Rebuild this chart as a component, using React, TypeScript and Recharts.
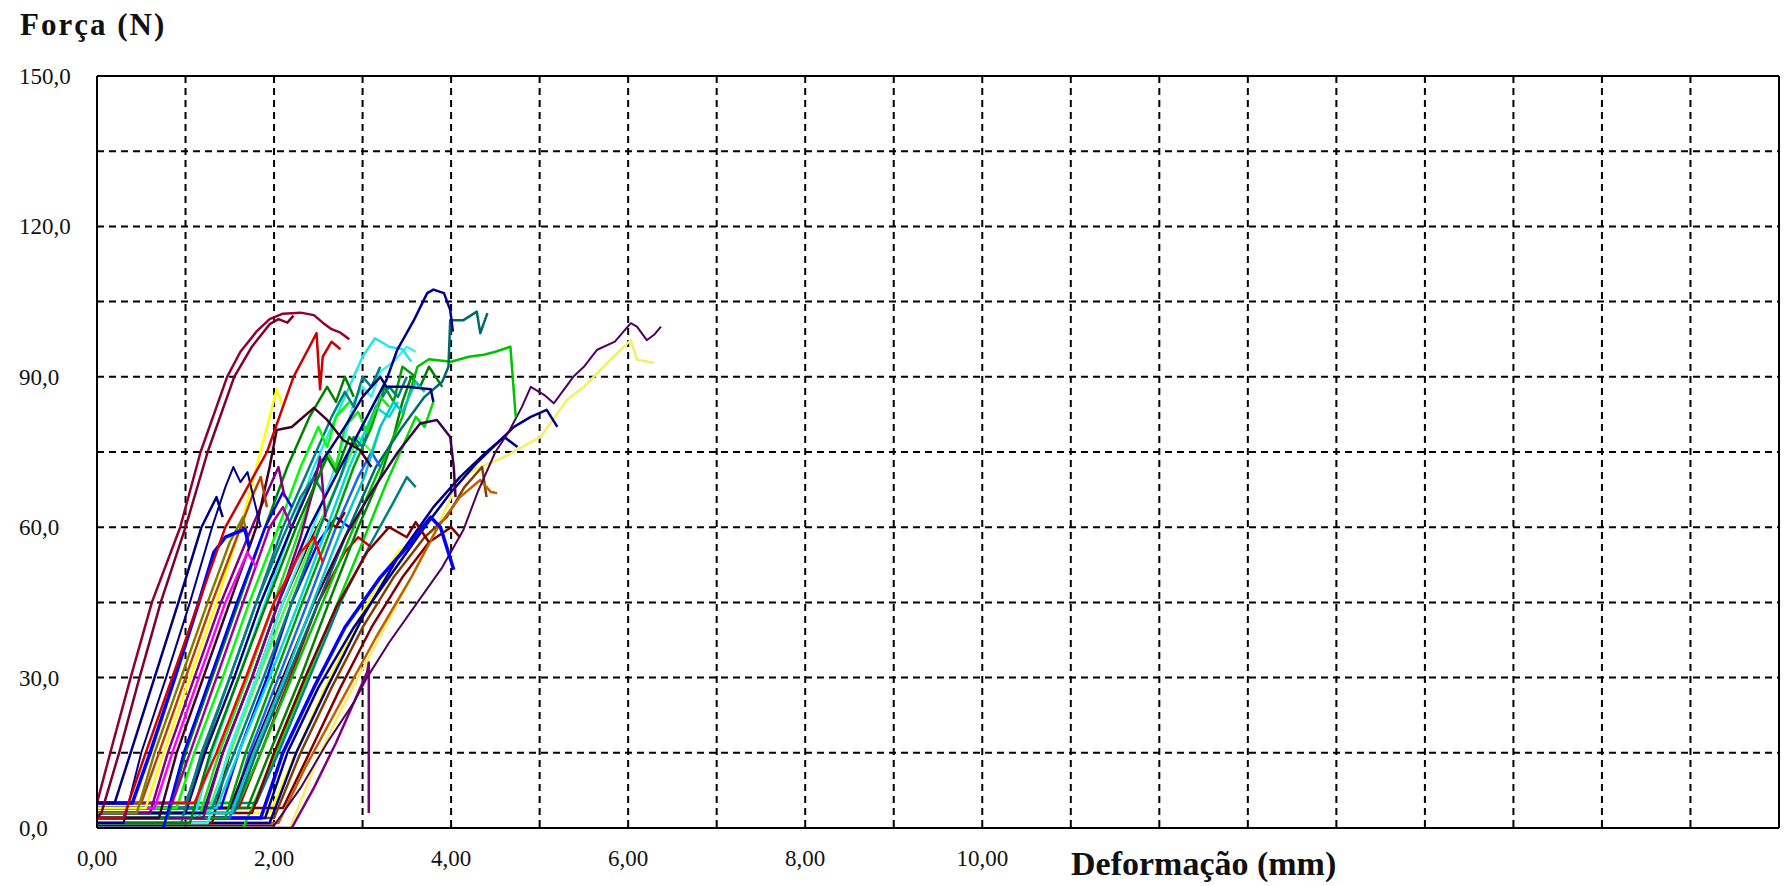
import React from "react";
import { LineChart, Line, XAxis, YAxis, CartesianGrid, ReferenceLine } from "recharts";

type Pt = [number, number];

// deformação (mm) x força (N), one array per specimen
const c01: Pt[] = [[0, 5], [0.15, 15], [0.38, 30], [0.62, 45], [0.94, 60], [1.17, 75], [1.47, 90], [1.62, 95], [1.8, 99], [1.95, 101.5], [2.1, 102.6], [2.3, 102.8], [2.45, 102.3], [2.55, 100.8], [2.65, 99.5], [2.75, 98.8], [2.85, 97.5]];
const c02: Pt[] = [[0, 2], [0.05, 3], [0.25, 15], [0.48, 30], [0.72, 45], [1.0, 60], [1.25, 75], [1.55, 90], [1.75, 96], [1.95, 100.5], [2.05, 101.5], [2.15, 100.8], [2.22, 102.2]];
const c03: Pt[] = [[0, 2], [0.3, 2], [0.55, 15], [0.85, 30], [1.15, 45], [1.45, 60], [1.92, 75], [2.22, 90], [2.4, 96], [2.48, 98.7], [2.52, 87.5], [2.55, 94], [2.65, 97], [2.75, 95.5]];
const c04: Pt[] = [[0, 4], [0.55, 4], [0.75, 15], [1.05, 30], [1.35, 45], [1.62, 60], [1.8, 72], [1.95, 82], [2.03, 87.5], [2.1, 84]];
const c05: Pt[] = [[0, 1], [0.3, 1], [0.5, 15], [0.78, 30], [1.05, 45], [1.3, 60], [1.45, 68], [1.54, 72], [1.62, 69], [1.7, 71], [1.78, 65], [1.85, 60]];
const c06: Pt[] = [[0, 5], [0.4, 5], [0.6, 15], [0.88, 30], [1.15, 45], [1.32, 55], [1.45, 58], [1.67, 59.6], [1.72, 56]];
const c07: Pt[] = [[0, 3], [0.6, 3], [0.8, 15], [1.1, 30], [1.4, 45], [1.75, 60], [1.95, 68], [2.05, 72], [2.12, 66]];
const c08: Pt[] = [[0, 2], [0.8, 2], [1.0, 15], [1.3, 30], [1.6, 45], [1.9, 60], [2.15, 72], [2.4, 82], [2.6, 88], [2.7, 85], [2.8, 90], [2.9, 86]];
const c09: Pt[] = [[0, 4], [0.9, 4], [1.1, 15], [1.42, 30], [1.72, 45], [2.05, 60], [2.3, 72], [2.5, 80], [2.6, 76], [2.7, 82], [2.85, 85]];
const c10: Pt[] = [[0, 5], [1.0, 5], [1.2, 15], [1.5, 30], [1.8, 45], [2.1, 60], [2.4, 72], [2.65, 82], [2.8, 87], [2.9, 84], [3.0, 90], [3.1, 88], [3.2, 92]];
const c11: Pt[] = [[0, 2], [1.1, 2], [1.3, 15], [1.6, 30], [1.9, 45], [2.2, 60], [2.45, 72], [2.7, 82], [2.9, 90], [3.0, 94], [3.14, 97.7], [3.3, 96], [3.45, 95.5], [3.55, 93]];
const c12: Pt[] = [[0, 3], [1.2, 3], [1.42, 15], [1.75, 30], [2.05, 45], [2.4, 60], [2.75, 72], [3.05, 82], [3.27, 89.4], [3.39, 95.3], [3.58, 101.3], [3.73, 106.7], [3.8, 107.4], [3.92, 106.7], [3.99, 103.3], [4.02, 99]];
const c13: Pt[] = [[0, 1], [1.3, 1], [1.5, 15], [1.8, 30], [2.1, 45], [2.4, 57], [2.55, 62], [2.7, 60], [2.8, 63]];
const c14: Pt[] = [[0, 4], [1.4, 4], [1.6, 15], [1.92, 30], [2.2, 45], [2.5, 57], [2.7, 62], [2.85, 60]];
const c15: Pt[] = [[0, 3], [1.55, 3], [1.8, 15], [2.15, 30], [2.5, 45], [2.85, 60], [3.15, 72], [3.45, 80], [3.7, 86], [3.9, 89], [3.97, 92], [3.99, 101.3], [4.14, 101.3], [4.29, 103], [4.33, 98.7], [4.41, 102.7]];
const c16: Pt[] = [[0, 5], [1.6, 5], [1.85, 15], [2.2, 30], [2.55, 45], [2.9, 60], [3.2, 72], [3.45, 82], [3.62, 92], [3.75, 93.5], [4.0, 93], [4.2, 94], [4.37, 94.4], [4.5, 95], [4.67, 96], [4.73, 82]];
const c17: Pt[] = [[0, 0.5], [2.0, 0.5], [2.3, 8], [2.6, 17], [2.9, 25], [3.05, 30], [3.3, 37], [3.62, 45], [3.9, 52], [4.14, 59.5], [4.3, 67], [4.5, 75], [4.65, 79], [4.8, 84], [4.9, 88], [5.05, 86.4], [5.16, 84.7], [5.38, 90], [5.5, 92], [5.65, 95.4], [5.85, 97], [6.03, 100.7], [6.1, 100], [6.21, 97.3], [6.3, 98.5], [6.37, 100]];
const c18: Pt[] = [[0, 0], [2.18, 0], [2.52, 15], [2.8, 25], [3.1, 35], [3.4, 45], [3.7, 55], [3.95, 64], [4.1, 70], [4.33, 72], [4.6, 74], [5.01, 78], [5.31, 85.4], [5.5, 88], [5.76, 92.7], [6.03, 97.3], [6.1, 93.4], [6.29, 92.8]];
const c19: Pt[] = [[0, 2], [1.9, 2], [2.15, 15], [2.5, 28], [2.9, 40], [3.3, 50], [3.7, 60], [4.0, 67], [4.3, 73], [4.71, 80], [4.9, 82], [5.08, 83.4], [5.2, 80]];
const c20: Pt[] = [[0, 4], [1.5, 4], [1.75, 15], [2.1, 30], [2.45, 45], [2.8, 58], [3.1, 67], [3.4, 75], [3.65, 80.7], [3.84, 81.4], [3.99, 78], [4.03, 72], [4.05, 66]];
const c21: Pt[] = [[0, 3], [1.0, 3], [1.22, 15], [1.55, 30], [1.85, 45], [2.2, 60], [2.5, 72], [2.8, 80], [3.0, 86], [3.2, 90], [3.27, 88], [3.5, 88], [3.77, 87.5], [3.8, 85]];
const c22: Pt[] = [[0, 2], [0.7, 2], [0.9, 15], [1.2, 30], [1.5, 45], [1.8, 60], [1.95, 72], [2.03, 79.4], [2.2, 80], [2.45, 83.8], [2.6, 81.4], [2.78, 77.4], [2.97, 75.4], [3.1, 72]];
const c23: Pt[] = [[0, 1], [1.25, 1], [1.48, 15], [1.8, 30], [2.1, 45], [2.4, 58], [2.65, 70], [2.8, 78], [2.9, 85], [3.0, 88], [3.1, 86], [3.2, 91], [3.35, 93], [3.5, 96], [3.6, 95]];
const c24: Pt[] = [[0, 4], [1.7, 4], [1.95, 15], [2.3, 30], [2.62, 45], [2.95, 60], [3.2, 70], [3.35, 78], [3.45, 85], [3.55, 90], [3.65, 88], [3.75, 92], [3.9, 88]];
const c25: Pt[] = [[0, 0], [1.65, 0], [1.95, 12], [2.3, 27], [2.65, 42], [3.0, 57], [3.25, 68], [3.45, 76], [3.6, 82], [3.7, 80], [3.8, 85]];
const c26: Pt[] = [[0, 5], [1.8, 5], [2.05, 15], [2.4, 30], [2.75, 45], [3.1, 57], [3.35, 65], [3.5, 70], [3.6, 68]];
const c27: Pt[] = [[0, 2], [1.85, 2], [2.1, 15], [2.45, 28], [2.8, 40], [3.2, 50], [3.5, 56], [3.77, 62], [3.88, 60], [4.03, 51.5]];
const c28: Pt[] = [[0, 3], [1.75, 3], [2.0, 15], [2.35, 30], [2.7, 44], [3.05, 55], [3.3, 60], [3.5, 58], [3.6, 61], [3.75, 57]];
const c29: Pt[] = [[0, 5], [1.1, 5], [1.35, 15], [1.68, 30], [2.0, 45], [2.3, 55], [2.45, 58], [2.55, 53]];
const c30: Pt[] = [[0, 1], [2.05, 1], [2.35, 12], [2.75, 25], [3.15, 38], [3.55, 50], [3.85, 60], [4.1, 66], [4.33, 69.4], [4.45, 67], [4.52, 66.8]];
const c31: Pt[] = [[0, 4], [0.65, 4], [0.85, 15], [1.15, 30], [1.45, 45], [1.7, 55], [1.8, 52]];
const c32: Pt[] = [[0, 3], [0.45, 3], [0.65, 15], [0.95, 30], [1.25, 45], [1.5, 57], [1.65, 62], [1.7, 58]];
const c33: Pt[] = [[0, 2], [1.5, 2], [1.72, 15], [2.05, 30], [2.38, 45], [2.7, 60], [2.95, 70], [3.1, 75], [3.2, 72]];
const c34: Pt[] = [[0, 4], [1.35, 4], [1.6, 15], [1.95, 30], [2.28, 45], [2.6, 60], [2.85, 72], [3.05, 80], [3.15, 84], [3.3, 82], [3.4, 85]];
const c35: Pt[] = [[0, 0], [2.2, 0], [2.45, 8], [2.7, 17], [2.9, 25], [3.05, 31], [3.07, 33], [3.07, 3]];
const c36: Pt[] = [[0, 3], [1.25, 3], [1.5, 15], [1.82, 30], [2.15, 45], [2.5, 60], [2.75, 70], [2.95, 78], [3.1, 75], [3.2, 80]];
const c37: Pt[] = [[0, 5], [0.2, 5], [0.38, 15], [0.65, 30], [0.92, 45], [1.18, 60], [1.35, 66], [1.42, 62]];
const c38: Pt[] = [[0, 2], [1.45, 2], [1.68, 15], [2.0, 30], [2.32, 45], [2.65, 60], [2.9, 72], [3.1, 80], [3.25, 88], [3.35, 85], [3.45, 92], [3.6, 90]];
const c39: Pt[] = [[0, 4], [1.6, 4], [1.85, 15], [2.18, 30], [2.5, 45], [2.8, 55], [2.95, 58], [3.1, 56]];
const c40: Pt[] = [[0, 3], [1.95, 3], [2.25, 15], [2.55, 27], [2.85, 38], [3.15, 48], [3.4, 55], [3.6, 58]];
const c41: Pt[] = [[0, 1], [0.95, 1], [1.18, 15], [1.5, 30], [1.8, 45], [2.1, 58], [2.3, 66], [2.45, 70], [2.55, 67]];
const c42: Pt[] = [[0, 2], [2.0, 2], [2.3, 15], [2.65, 28], [3.0, 40], [3.35, 50], [3.7, 58], [3.95, 62], [4.15, 68], [4.35, 72], [4.4, 66]];
const c43: Pt[] = [[0, 5], [0.85, 5], [1.05, 15], [1.35, 30], [1.65, 45], [1.95, 60], [2.1, 64], [2.2, 60]];
const c44: Pt[] = [[0, 0], [0.75, 0], [0.98, 15], [1.28, 30], [1.58, 45], [1.9, 60], [2.1, 67], [2.2, 64]];
const c45: Pt[] = [[0, 4], [2.1, 4], [2.4, 15], [2.75, 28], [3.1, 40], [3.45, 50], [3.75, 57], [4.0, 60], [4.1, 58]];
const c46: Pt[] = [[0, 1], [1.95, 1], [2.25, 15], [2.6, 28], [3.0, 42], [3.4, 54], [3.8, 64], [4.1, 70], [4.4, 75], [4.6, 78], [4.75, 76]];
const c47: Pt[] = [[0, 2], [1.15, 2], [1.38, 15], [1.7, 30], [2.0, 45], [2.3, 60], [2.5, 70], [2.6, 75], [2.7, 72], [2.8, 80], [2.95, 83], [3.05, 79], [3.2, 86], [3.3, 84]];
const c48: Pt[] = [[0, 4], [1.3, 4], [1.55, 15], [1.88, 30], [2.2, 45], [2.52, 60], [2.75, 70], [2.9, 78], [3.0, 76], [3.15, 84], [3.3, 88], [3.4, 86], [3.5, 90]];
const c49: Pt[] = [[0, 3], [1.52, 3], [1.77, 15], [2.12, 30], [2.44, 45], [2.77, 60], [3.02, 70], [3.2, 80], [3.35, 85], [3.45, 83], [3.6, 89], [3.7, 87]];
const c50: Pt[] = [[0, 1], [1.05, 1], [1.28, 15], [1.6, 30], [1.92, 45], [2.25, 60], [2.45, 68], [2.6, 74], [2.7, 71], [2.85, 78], [2.95, 76]];
const c51: Pt[] = [[0, 2], [1.2, 2], [1.42, 15], [1.75, 30], [2.05, 45], [2.3, 58], [2.45, 68], [2.52, 74], [2.58, 62]];
const c52: Pt[] = [[0, 5], [0.5, 5], [0.7, 15], [1.0, 30], [1.3, 45], [1.58, 58], [1.75, 66], [1.85, 70], [1.92, 64]];

const curves: Pt[][] = [
  c18, c35, c40, c45, c42, c30, c46, c19, c17, c25, c26, c28, c39, c27, c24, c16, c15,
  c33, c20, c14, c13, c36, c38, c34, c23, c49, c48, c11, c47, c10, c12, c21, c41,
  c51, c50, c09, c08, c29, c44, c43, c07, c22, c31, c04, c52, c32, c06, c05, c37,
  c03, c02, c01,
];

const curveColors = [
  "#f4f060", "#800080", "#ffff00", "#800000", "#804000", "#c06000", "#000080", "#000080", "#500060", "#00e000", "#008080", "#800000", "#c00000", "#0000ff", "#008000", "#00c000", "#006a6a",
  "#1e60ff", "#400050", "#0000ff", "#800000", "#40ff40", "#00a000", "#00dada", "#40f0f0", "#00c8c8", "#008080", "#20e8e8", "#20e020", "#008080", "#000090", "#000080", "#008080",
  "#800080", "#008000", "#00ff00", "#008000", "#ff0000", "#0000ff", "#a000a0", "#800080", "#400020", "#ff00ff", "#ffff00", "#c04000", "#808000", "#0000ff", "#000080", "#000080",
  "#d00000", "#800030", "#900030",
];

const curveWidths = [
  2.5, 2.5, 2.5, 2.5, 2.5, 2.5, 2.5, 2.5, 2, 2.5, 2.5, 2.5, 2.5, 3.5, 2.5, 2.5, 2.5,
  2.5, 2.5, 2.5, 2.5, 2.5, 2.5, 2.5, 2.5, 2.5, 2.5, 2.5, 2.5, 2.5, 2.5, 2.5, 2.5,
  2.5, 2.5, 2.5, 2.5, 2.5, 2.5, 2.5, 2.5, 2.5, 2.5, 2.5, 2.5, 2.5, 3.5, 2, 2.5,
  2.5, 2.5, 2.5,
];

const xTicks = [0, 1, 2, 3, 4, 5, 6, 7, 8, 9, 10, 11, 12, 13, 14, 15, 16, 17, 18, 19];
const xLabels = [0, 2, 4, 6, 8, 10];
const yTicks = [0, 15, 30, 45, 60, 75, 90, 105, 120, 135, 150];
const yLabels = [0, 30, 60, 90, 120, 150];

const FONT = "'Liberation Serif', 'Times New Roman', serif";

const XTick = ({ x, y, payload }: any) => {
  if (!xLabels.includes(payload.value)) return <g />;
  return (
    <text x={x} y={y + 36} textAnchor="middle" fontFamily={FONT} fontSize={23} fill="#111">
      {payload.value.toFixed(2).replace(".", ",")}
    </text>
  );
};

const YTick = ({ y, payload }: any) => {
  if (!yLabels.includes(payload.value)) return <g />;
  return (
    <text x={19} y={y + 8} textAnchor="start" fontFamily={FONT} fontSize={23} fill="#111">
      {payload.value.toFixed(1).replace(".", ",")}
    </text>
  );
};

export default function App() {
  return (
    <div style={{ position: "absolute", left: 0, top: 0, width: 1785, height: 886, background: "#fff" }}>
      <div
        style={{
          position: "absolute", left: 20, top: 9, fontFamily: FONT, fontWeight: "bold",
          fontSize: 31, lineHeight: "31px", letterSpacing: 2, color: "#111",
        }}
      >
        Força (N)
      </div>
      <LineChart width={1785} height={886} margin={{ top: 76, right: 6, bottom: 0, left: 0 }}>
        <CartesianGrid stroke="#000" strokeWidth={2} strokeDasharray="7 5" />
        <XAxis
          type="number"
          dataKey="x"
          domain={[0, 19]}
          ticks={xTicks}
          interval={0}
          allowDataOverflow
          height={58}
          tickLine={false}
          tickSize={0}
          axisLine={{ stroke: "#000", strokeWidth: 2 }}
          tick={<XTick />}
        />
        <YAxis
          type="number"
          dataKey="y"
          domain={[0, 150]}
          ticks={yTicks}
          interval={0}
          allowDataOverflow
          width={97}
          tickLine={false}
          tickSize={0}
          axisLine={{ stroke: "#000", strokeWidth: 2 }}
          tick={<YTick />}
        />
        <ReferenceLine y={150} stroke="#000" strokeWidth={2} />
        <ReferenceLine x={19} stroke="#000" strokeWidth={2} />
        {curves.map((pts, i) => (
          <Line
            key={i}
            data={pts.map(([x, y]) => ({ x, y }))}
            dataKey="y"
            type="linear"
            stroke={curveColors[i]}
            strokeWidth={curveWidths[i]}
            strokeLinejoin="round"
            dot={false}
            activeDot={false}
            isAnimationActive={false}
          />
        ))}
      </LineChart>
      <div
        style={{
          position: "absolute", left: 1071, top: 846, fontFamily: FONT, fontWeight: "bold",
          fontSize: 34, lineHeight: "35px", color: "#111", whiteSpace: "nowrap",
        }}
      >
        Deformação (mm)
      </div>
    </div>
  );
}
